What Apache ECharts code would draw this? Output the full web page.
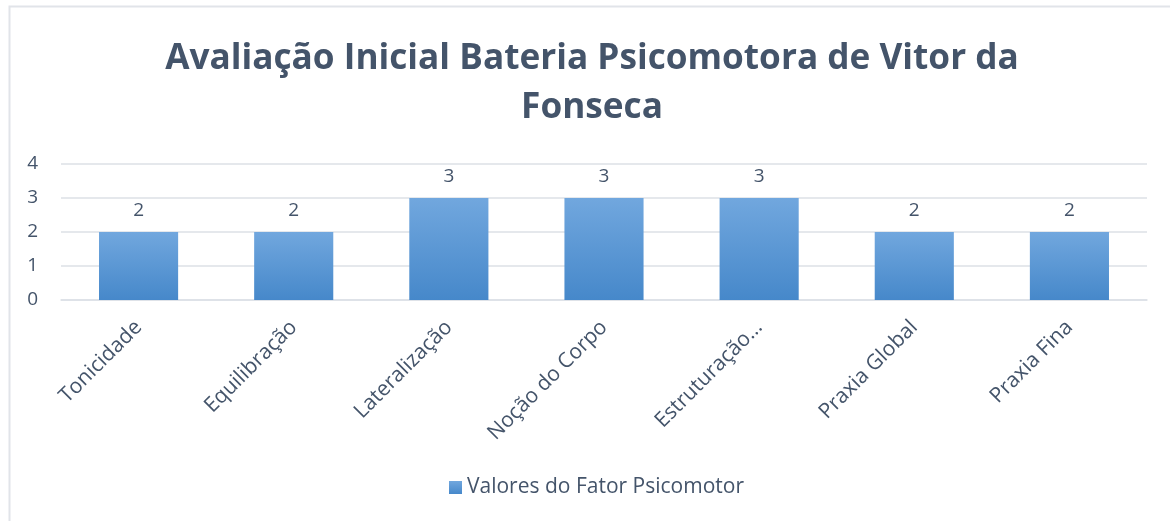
<!DOCTYPE html>
<html><head><meta charset="utf-8">
<script src="https://cdn.jsdelivr.net/npm/echarts@6/dist/echarts.min.js"></script>
<style>html,body{margin:0;padding:0;background:#fff}#c{width:1170px;height:521px}</style>
</head><body><div id="c"></div>
<script>
const categories = ["Tonicidade","Equilibração","Lateralização","Noção do Corpo","Estruturação…","Praxia Global","Praxia Fina"];
const values = [2,2,3,3,3,2,2];
const yTicks = [0,1,2,3,4];
const seriesName = "Valores do Fator Psicomotor";
const titleText = "Avaliação Inicial Bateria Psicomotora de Vitor da\nFonseca";

const chart = echarts.init(document.getElementById('c'), null, {renderer:'canvas'});
const txt = '#44546A';
const grad = new echarts.graphic.LinearGradient(0,0,0,1,[{offset:0,color:'#71A7DE'},{offset:1,color:'#4688CA'}]);
chart.setOption({
  animation:false,
  backgroundColor:'#fff',
  graphic:[{type:'rect',shape:{x:9.5,y:6.5,width:1200,height:600},style:{fill:'none',stroke:'#E1E4E9',lineWidth:2},silent:true}],
  title:{text:titleText,left:587,textAlign:'center',top:29,textStyle:{fontFamily:'Open Sans',fontWeight:'bold',fontSize:35.2,color:txt,lineHeight:49}},
  legend:{bottom:18,left:444,itemWidth:13,itemHeight:13,itemGap:7,icon:'rect',
    textStyle:{fontFamily:'Open Sans',fontSize:21,color:txt},data:[{name:seriesName,itemStyle:{color:grad}}]},
  grid:{left:61,right:23,top:164,bottom:221,containLabel:false},
  xAxis:{type:'category',data:categories,axisTick:{show:false},
    axisLine:{lineStyle:{color:'#DCE0E6',width:1.5}},
    axisLabel:{rotate:45,interval:0,margin:24,fontFamily:'Open Sans',fontSize:21,color:txt}},
  yAxis:{type:'value',min:yTicks[0],max:yTicks[yTicks.length-1],interval:1,
    axisLine:{show:false},axisTick:{show:false},
    splitLine:{lineStyle:{color:'#DCE0E6',width:1.5}},
    axisLabel:{margin:23,fontFamily:'Open Sans',fontSize:19,color:txt}},
  series:[{name:seriesName,type:'bar',data:values,barWidth:'51%',
    itemStyle:{color:grad},
    label:{show:true,position:'top',distance:12,fontFamily:'Open Sans',fontSize:19,color:txt}}]
});
</script></body></html>
